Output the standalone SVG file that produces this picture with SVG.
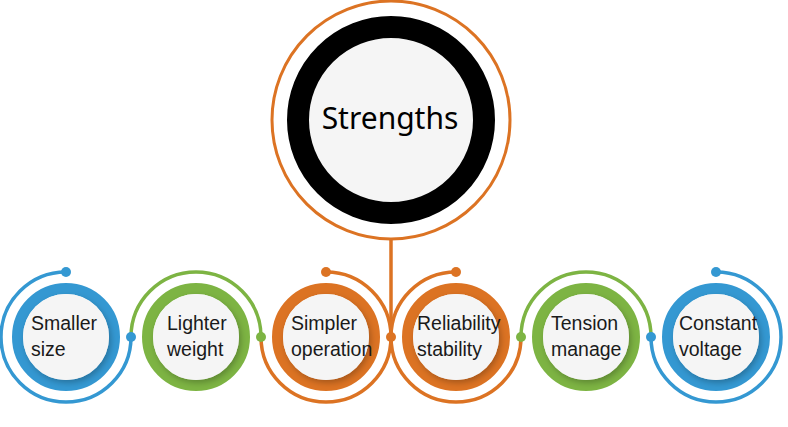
<svg xmlns="http://www.w3.org/2000/svg" width="788" height="427" viewBox="0 0 788 427">
<defs>
<filter id="sh" x="-30%" y="-30%" width="160%" height="160%">
<feDropShadow dx="2" dy="3" stdDeviation="3" flood-color="#000" flood-opacity="0.25"/>
</filter>
<style>
.lbl{font-family:"Liberation Sans",Arial,sans-serif;font-size:19.5px;fill:#1a1a1a}
.title{font-family:"Noto Sans","Open Sans",sans-serif;font-size:30px;fill:#000}
.arc{fill:none;stroke-width:3.5}
.ring{fill:none;stroke-width:11}
.inner{fill:#f5f5f5}
.blue{stroke:#3498d2}
.green{stroke:#7db443}
.orange{stroke:#dc7323}
.fblue{fill:#3498d2}
.fgreen{fill:#7db443}
.forange{fill:#dc7323}
</style>
</defs>
<rect width="788" height="427" fill="#fff"/>

<g id="connectors">
<path class="arc orange" d="M 391 240 L 391 337"/>
<path class="arc blue" d="M 66 272 A 65 65 0 1 0 131 337"/>
<path class="arc green" d="M 131 337 A 65 65 0 0 1 261 337"/>
<path class="arc orange" d="M 326 272 A 65 65 0 1 1 261 337"/>
<path class="arc orange" d="M 456 272 A 65 65 0 1 0 521 337"/>
<path class="arc green" d="M 521 337 A 65 65 0 0 1 651 337"/>
<path class="arc blue" d="M 716 272 A 65 65 0 1 1 651 337"/>
<circle class="fblue" cx="66" cy="272" r="5"/>
<circle class="fblue" cx="131" cy="337" r="5"/>
<circle class="fgreen" cx="261" cy="337" r="5"/>
<circle class="forange" cx="326" cy="272" r="5"/>
<circle class="forange" cx="391" cy="337" r="5"/>
<circle class="forange" cx="456" cy="272" r="5"/>
<circle class="fgreen" cx="521" cy="337" r="5"/>
<circle class="fblue" cx="651" cy="337" r="5"/>
<circle class="fblue" cx="716" cy="272" r="5"/>
</g>

<g id="strengths">
<circle cx="391" cy="120" r="119" fill="none" stroke="#dc7323" stroke-width="3"/>
<circle cx="391" cy="120" r="93" fill="#f5f5f5" stroke="#000" stroke-width="22"/>
<text class="title" x="390" y="129" text-anchor="middle">Strengths</text>
</g>

<g id="smaller-size">
<circle class="ring blue" cx="66" cy="337" r="48.5"/>
<circle class="inner" cx="66" cy="337" r="43" filter="url(#sh)"/>
<text class="lbl" x="31" y="330">Smaller</text>
<text class="lbl" x="31" y="356">size</text>
</g>

<g id="lighter-weight">
<circle class="ring green" cx="196" cy="337" r="48.5"/>
<circle class="inner" cx="196" cy="337" r="43" filter="url(#sh)"/>
<text class="lbl" x="167" y="330">Lighter</text>
<text class="lbl" x="167" y="356">weight</text>
</g>

<g id="simpler-operation">
<circle class="ring orange" cx="326" cy="337" r="48.5"/>
<circle class="inner" cx="326" cy="337" r="43" filter="url(#sh)"/>
<text class="lbl" x="291" y="330">Simpler</text>
<text class="lbl" x="291" y="356">operation</text>
</g>

<g id="reliability-stability">
<circle class="ring orange" cx="456" cy="337" r="48.5"/>
<circle class="inner" cx="456" cy="337" r="43" filter="url(#sh)"/>
<text class="lbl" x="417" y="330">Reliability</text>
<text class="lbl" x="417" y="356">stability</text>
</g>

<g id="tension-manage">
<circle class="ring green" cx="586" cy="337" r="48.5"/>
<circle class="inner" cx="586" cy="337" r="43" filter="url(#sh)"/>
<text class="lbl" x="551" y="330">Tension</text>
<text class="lbl" x="551" y="356">manage</text>
</g>

<g id="constant-voltage">
<circle class="ring blue" cx="716" cy="337" r="48.5"/>
<circle class="inner" cx="716" cy="337" r="43" filter="url(#sh)"/>
<text class="lbl" x="679" y="330">Constant</text>
<text class="lbl" x="679" y="356">voltage</text>
</g>
</svg>
